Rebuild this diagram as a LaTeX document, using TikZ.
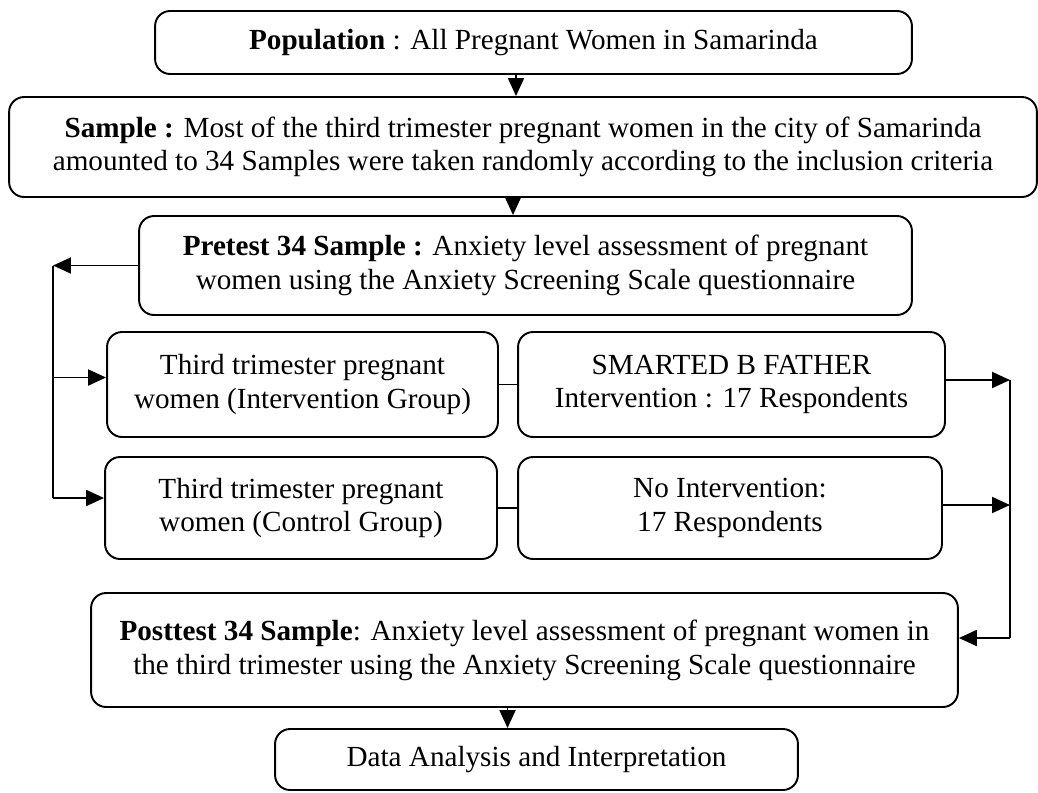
\documentclass[tikz,border=0pt]{standalone}
\usepackage{fontspec}
\setmainfont{Liberation Serif}
\usetikzlibrary{positioning, arrows.meta}

\tikzset{
    stage/.style={draw, line width=1.1pt, rounded corners=0.3cm, align=center, inner sep=0pt,
        font=\fontsize{16.6}{19.2}\selectfont},
    flow/.style={line width=1.1pt, -{Triangle[length=0.36cm, width=0.32cm]}},
    bus/.style={line width=1.1pt}
}

\begin{document}
\begin{tikzpicture}[x=0.02cm, y=-0.02cm]
    \useasboundingbox (0, 0) rectangle (1038, 792);

    \node (pop) [stage, minimum width=15.14cm, minimum height=1.26cm] at (533.5, 42.5) {\textbf{Population} : All Pregnant Women in Samarinda};
    \node (samp) [stage, minimum width=20.56cm, minimum height=2cm] at (523, 147) {\textbf{Sample :} Most of the third trimester pregnant women in the city of Samarinda\\amounted to 34 Samples were taken randomly according to the inclusion criteria};
    \node (pre) [stage, minimum width=15.46cm, minimum height=1.98cm] at (525.5, 265.5) {\textbf{Pretest 34 Sample :} Anxiety level assessment of pregnant\\women using the Anxiety Screening Scale questionnaire};
    \node (grpA) [stage, minimum width=7.82cm, minimum height=2.1cm] at (302.5, 384.5) {Third trimester pregnant\\women (Intervention Group)};
    \node (intA) [stage, minimum width=8.54cm, minimum height=2.1cm] at (731.5, 384.5) {SMARTED B FATHER\\Intervention : 17 Respondents};
    \node (grpB) [stage, minimum width=7.84cm, minimum height=2.04cm] at (301, 508) {Third trimester pregnant\\women (Control Group)};
    \node (intB) [stage, minimum width=8.48cm, minimum height=2.04cm] at (730, 508) {No Intervention:\\17 Respondents};
    \node (post) [stage, minimum width=17.34cm, minimum height=2.28cm] at (524.5, 650) {\textbf{Posttest 34 Sample}: Anxiety level assessment of pregnant women in\\the third trimester using the Anxiety Screening Scale questionnaire};
    \node (data) [stage, minimum width=10.46cm, minimum height=1.22cm] at (536.5, 759.5) {Data Analysis and Interpretation};

    \coordinate (lbus) at (53, 0);
    \coordinate (rbus) at (1010, 0);
    \coordinate (inA) at ([yshift=0.14cm]grpA.west);
    \coordinate (inB) at ([yshift=0.2cm]grpB.west);
    \coordinate (outA) at ([yshift=0.09cm]intA.east);
    \coordinate (outB) at ([yshift=0.06cm]intB.east);
    \coordinate (inPost) at ([yshift=0.24cm]post.east);

    \draw [flow] ([xshift=-0.14cm]pop.south -| samp.north) -- ([xshift=-0.14cm]samp.north);
    \draw [flow] ([xshift=-0.2cm]samp.south) -- ([xshift=-0.2cm]samp.south |- pre.north);
    \draw [flow] (pre.west) -- (pre.west -| lbus);
    \draw [bus] (pre.west -| lbus) -- (inB -| lbus);
    \draw [flow] (inA -| lbus) -- (inA);
    \draw [flow] (inB -| lbus) -- (inB);
    \draw [bus] (grpA.east) -- (intA.west);
    \draw [bus] (grpB.east) -- (intB.west);
    \draw [flow] (outA) -- (outA -| rbus);
    \draw [flow] (outB) -- (outB -| rbus);
    \draw [bus] (outA -| rbus) -- (inPost -| rbus);
    \draw [flow] (inPost -| rbus) -- (inPost);
    \draw [flow] ([xshift=-0.58cm]post.south -| data.north) -- ([xshift=-0.58cm]data.north);
\end{tikzpicture}
\end{document}
